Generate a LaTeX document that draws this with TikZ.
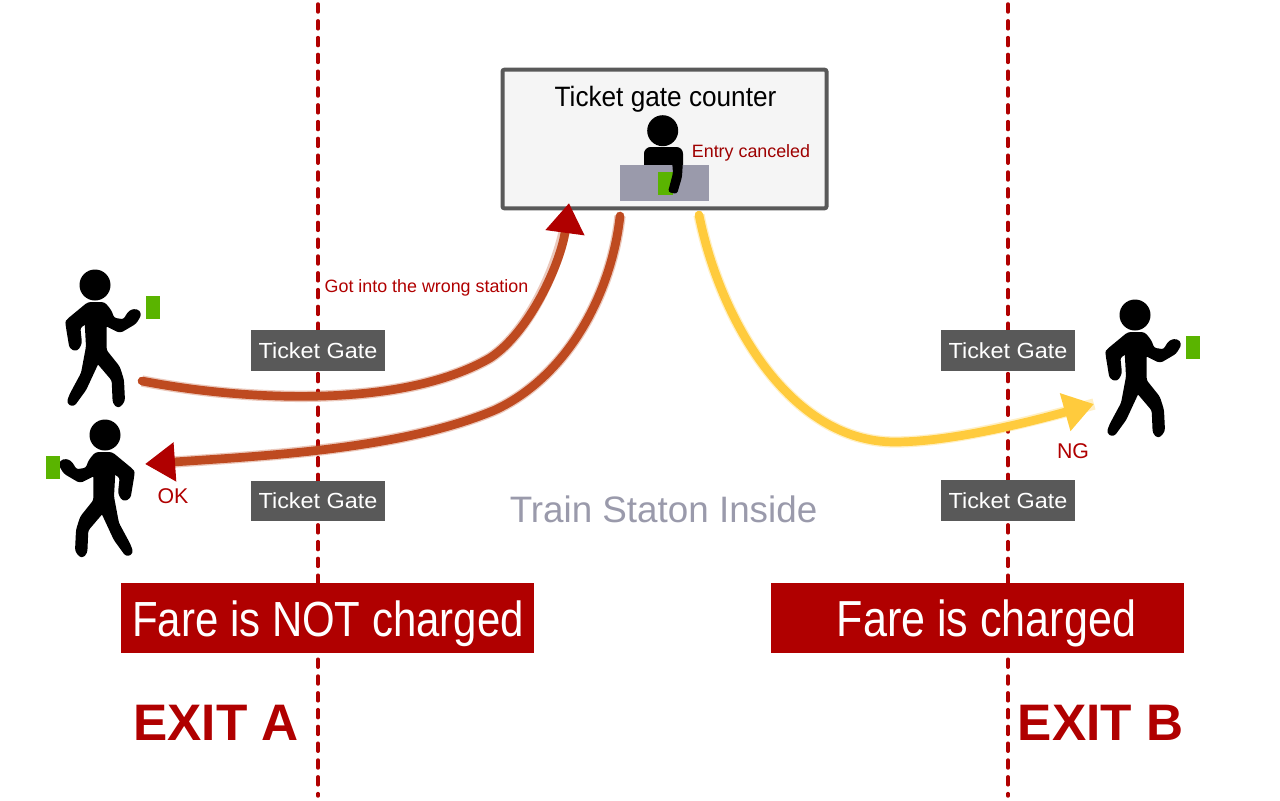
\documentclass[tikz,border=0pt]{standalone}
\usepackage{fontspec}
\setmainfont{Liberation Sans}
\newfontfamily\narrowfont[FakeStretch=0.85]{Liberation Sans}
\newfontfamily\titlefont[FakeStretch=0.935]{Liberation Sans}
\newfontfamily\gatefont[FakeStretch=1.07]{Liberation Sans}
\usetikzlibrary{arrows.meta}

\definecolor{exitred}{HTML}{B00000}
\definecolor{gategray}{HTML}{595959}
\definecolor{deskgray}{HTML}{9A9AAB}
\definecolor{cardgreen}{HTML}{5AB400}
\definecolor{okbrown}{HTML}{BE4A20}
\definecolor{ngyellow}{HTML}{FFCB3D}

\tikzset{
  gatebox/.style={fill=gategray,text=white,minimum width=100.5pt,minimum height=30.5pt,inner sep=0pt,font=\gatefont\fontsize{16.4}{19}\selectfont},
  farebox/.style={fill=exitred,minimum width=310pt,minimum height=52.5pt,inner sep=0pt},
  faretext/.style={anchor=base,inner sep=0pt,text=white,font=\narrowfont\fontsize{37}{40}\selectfont},
  exitlabel/.style={anchor=base,text=exitred,inner sep=0pt,font=\bfseries\fontsize{38.5}{40}\selectfont},
  redlabel/.style={anchor=base,text=exitred,inner sep=0pt,font=\fontsize{13.4}{15}\selectfont},
  card/.style={fill=cardgreen,minimum width=10.5pt,minimum height=17pt,inner sep=0pt},
  exitline/.style={exitred,line width=2.6pt,line cap=round,dash pattern=on 6pt off 6.6pt},
  okroute/.style={okbrown,line width=6.5pt,line cap=round,preaction={draw,okbrown,line width=8.5pt,opacity=.3,shorten >=8pt,-},-{Triangle[length=22.5pt,width=28pt,color=exitred]}},
  ngroute/.style={ngyellow,line width=6.5pt,line cap=round,preaction={draw,ngyellow,line width=8.5pt,opacity=.3,-},-{Triangle[length=22.5pt,width=28pt]}},
  walker/.pic={
    \fill (0,0) circle [radius=15.5];
    \filldraw [line width=2pt,line join=round,rounded corners=2pt,scale=0.3333] (-20,55) -- (27,55) -- (45,77) -- (55,102) -- (87,107) -- (105,79) -- (125,75) -- (136,87) -- (121,113) -- (75,140) -- (31,118) -- (31,197) -- (71,247) -- (83,285) -- (86,348) -- (70,366) -- (57,353) -- (54,285) -- (8,231) -- (-30,313) -- (-65,361) -- (-81,353) -- (-73,330) -- (-38,265) -- (-23,185) -- (-27,112) -- (-48,127) -- (-43,175) -- (-55,195) -- (-73,188) -- (-85,115) -- (-83,107) -- cycle;
  }
}

\begin{document}
\begin{tikzpicture}[x=0.75pt,y=0.75pt,yscale=-1,xscale=1]
	\useasboundingbox (0,0) rectangle (1280,800);

	% Exit lines
	\coordinate (lineAtop) at (318,4);
	\coordinate (lineAbot) at (318,796);
	\coordinate (lineBtop) at (1008,4);
	\coordinate (lineBbot) at (1008,796);
	\draw [exitline] (lineAtop) -- (lineAbot);
	\draw [exitline] (lineBtop) -- (lineBbot);

	% Counter
	\node (counter) at (664.5,139) [draw=gategray,line width=3pt,fill=black!4,rounded corners=1.5pt,minimum width=243pt,minimum height=104pt] {};
	\node (countertitle) at (665.5,106.7) [anchor=base,inner sep=0pt,font=\titlefont\fontsize{21}{24}\selectfont] {Ticket gate counter};
	\node (canceled) at (751,157.3) [anchor=base,inner sep=0pt,text=exitred!90!black,font=\fontsize{13.4}{15}\selectfont] {Entry canceled};

	% Clerk
	\fill (662.7,130.7) circle [radius=15.5];
	\fill [rounded corners=5pt] (644,172) -- (644,147) -- (683,147) -- (683,172) -- cycle;
	\node (desk) at (664.5,183) [fill=deskgray,minimum width=66.75pt,minimum height=26.75pt,inner sep=0pt] {};
	\node (clerkcard) at (665.3,183.5) [fill=cardgreen,minimum width=11.5pt,minimum height=17.25pt,inner sep=0pt] {};
	\fill [rounded corners=2pt] (672,160) -- (683,160) -- (682,177) -- (677,194) -- (668,192) -- (673,173) -- cycle;

	% Walkers
	\pic (walkerA) [transform shape] at (95,285) {walker};
	\pic (walkerB) [transform shape,xscale=-1] at (105,435) {walker};
	\pic (walkerC) [transform shape] at (1135,315) {walker};
	\node (cardA) at (153,307.5) [card] {};
	\node (cardB) at (53,467.5) [card] {};
	\node (cardC) at (1193,347.5) [card] {};

	% Routes
	\coordinate (wrongstart) at (142,381);
	\coordinate (wrongmid) at (490,358);
	\coordinate (wrongend) at (569,203);
	\coordinate (backstart) at (620,216);
	\coordinate (backmid) at (495,410);
	\coordinate (backend) at (145,464);
	\coordinate (ngstart) at (699,215);
	\coordinate (ngmid) at (895,442);
	\coordinate (ngend) at (1094,404);
	\draw [okroute] (wrongstart) .. controls (240,400) and (400,410) .. (wrongmid) .. controls (530,332) and (561,262) .. (wrongend);
	\draw [okroute] (backstart) .. controls (612,290) and (570,375) .. (backmid) .. controls (400,450) and (260,456) .. (backend);
	\draw [ngroute] (ngstart) .. controls (720,320) and (790,442) .. (ngmid) .. controls (950,442) and (1030,422) .. (ngend);

	% Gates
	\node (gateA) at (318,350.5) [gatebox] {Ticket Gate};
	\node (gateAlow) at (318,501) [gatebox] {Ticket Gate};
	\node (gateB) at (1008,350.5) [gatebox] {Ticket Gate};
	\node (gateBlow) at (1008,500.5) [gatebox] {Ticket Gate};

	% Labels
	\node (wronglabel) at (426.5,292) [redlabel] {Got into the wrong station};
	\node (oklabel) at (173,503) [redlabel,font=\fontsize{16}{18}\selectfont] {OK};
	\node (nglabel) at (1073,458) [redlabel,font=\fontsize{16}{18}\selectfont] {NG};
	\node (inside) at (663.5,509) [inner sep=0pt,text=deskgray,font=\fontsize{27.6}{30}\selectfont] {Train Staton Inside};

	% Fare boxes
	\node (fareA) at (327.5,618) [farebox] {};
	\node (fareB) at (977.5,618) [farebox] {};
	\node (faretextA) at (328,636) [faretext] {Fare is NOT charged};
	\node (faretextB) at (986.5,636) [faretext,font=\narrowfont\fontsize{38}{40}\selectfont] {Fare is charged};
	\node (exitA) at (216,740) [exitlabel] {EXIT A};
	\node (exitB) at (1100.5,740) [exitlabel] {EXIT B};
\end{tikzpicture}
\end{document}
